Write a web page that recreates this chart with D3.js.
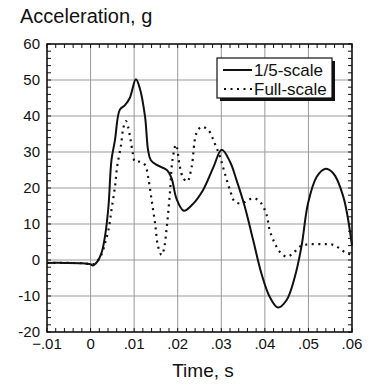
<html lang="en">
<head>
  <meta charset="utf-8"/>
  <script src="https://d3js.org/d3.v7.min.js"></script>
  <style>
  body { margin:0; background:white; }
  text { font-family: "Liberation Sans", Arial, sans-serif; fill:#111; }
  .grid line { stroke:#999; stroke-width:1px; }
  .minor line { stroke:#111; stroke-width:1px; }
  </style>
</head>
<body>
  <svg id="chart" width="369" height="388"></svg>
  <script>
    // 1/5-scale model (solid)
    const smallT = [-0.01,-0.006,-0.002,0,0.0005,0.0015,0.0025,0.0033,0.0041,0.0048,0.0056,0.0067,0.0079,0.009,0.0104,0.0113,0.0125,0.0132,0.0138,0.0152,0.0175,0.0186,0.0197,0.0214,0.0232,0.0258,0.0281,0.0301,0.032,0.0335,0.0354,0.0373,0.0392,0.0411,0.043,0.045,0.0469,0.0484,0.0499,0.0519,0.0538,0.0557,0.058,0.06];
    const smallG = [-0.8,-0.8,-0.9,-1.2,-1.5,-0.5,1.9,6.5,14.8,27.8,33.3,41.7,43,45,50.2,47.7,39.8,30.5,27.8,26.4,25,22.7,17.1,13.7,15.2,19.4,25.5,30.6,27.3,22.2,14.8,5.6,-3.7,-10.2,-13.2,-11.1,-4.6,3.7,15.7,23.1,25.3,24.1,17.6,4];
    // Full-scale (dotted)
    const fullT = [-0.01,-0.006,-0.002,0,0.001,0.0025,0.0033,0.0041,0.0048,0.0056,0.0061,0.007,0.0075,0.0081,0.0086,0.0092,0.0097,0.0102,0.0113,0.0125,0.0132,0.014,0.0148,0.0155,0.0163,0.0168,0.0175,0.0182,0.0188,0.0196,0.0205,0.0213,0.0222,0.0232,0.0243,0.0255,0.027,0.0285,0.0297,0.0308,0.032,0.0331,0.0347,0.0362,0.0377,0.0392,0.0404,0.0411,0.0423,0.0434,0.045,0.0465,0.048,0.0496,0.0519,0.0541,0.0557,0.0572,0.0587,0.06];
    const fullG = [-0.8,-0.8,-0.9,-1.1,-1,1.5,4.6,8.3,13.9,20.4,25.9,32,36.6,38.6,37,33.3,29.6,27.3,27.3,26.4,23.1,16.7,10.2,3.7,1.4,2.8,9.3,18.5,27.8,32,25.9,22.7,21.8,25.9,35.2,37,36.1,32.4,28.7,24.1,19.4,16.2,15.7,16.7,17.1,15.7,12.5,8.3,4.6,2.3,0.9,1.9,3.7,4.3,4.4,4.4,4.2,3.2,1.9,1.5];

    const xTicks = [-0.01,0,0.01,0.02,0.03,0.04,0.05,0.06];
    const yTicks = [-20,-10,0,10,20,30,40,50,60];
    const seriesNames = ["1/5-scale","Full-scale"];

    const svg = d3.select("#chart");
    const plotL = 47, plotR = 352, plotT = 44, plotB = 332;

    const x = d3.scaleLinear().domain([-0.01,0.06]).range([plotL,plotR]);
    const y = d3.scaleLinear().domain([-20,60]).range([plotB,plotT]);

    // grid
    const grid = svg.append("g").attr("class","grid");
    grid.selectAll("line.v").data(xTicks).join("line").attr("class","v")
      .attr("x1",d=>x(d)).attr("x2",d=>x(d)).attr("y1",plotT).attr("y2",plotB);
    grid.selectAll("line.h").data(yTicks).join("line").attr("class","h")
      .attr("x1",plotL).attr("x2",plotR).attr("y1",d=>y(d)).attr("y2",d=>y(d));

    // minor ticks, inward on all sides
    const minor = svg.append("g").attr("class","minor");
    const xMinor = d3.range(0,36).map(i => -0.01 + i*0.002);
    const yMinor = d3.range(0,41).map(i => -20 + i*2);
    minor.selectAll("line.bt").data(xMinor).join("line").attr("class","bt")
      .attr("x1",d=>x(d)).attr("x2",d=>x(d)).attr("y1",plotB).attr("y2",plotB-4);
    minor.selectAll("line.tt").data(xMinor).join("line").attr("class","tt")
      .attr("x1",d=>x(d)).attr("x2",d=>x(d)).attr("y1",plotT).attr("y2",plotT+4);
    minor.selectAll("line.lt").data(yMinor).join("line").attr("class","lt")
      .attr("x1",plotL).attr("x2",plotL+4).attr("y1",d=>y(d)).attr("y2",d=>y(d));
    minor.selectAll("line.rt").data(yMinor).join("line").attr("class","rt")
      .attr("x1",plotR).attr("x2",plotR-4).attr("y1",d=>y(d)).attr("y2",d=>y(d));

    // curves
    const line = d3.line().x(d=>x(d[0])).y(d=>y(d[1])).curve(d3.curveCatmullRom.alpha(0.5));
    svg.append("path").datum(d3.zip(fullT, fullG))
      .attr("d", line).attr("fill","none").attr("stroke","#111")
      .attr("stroke-width",2.2).attr("stroke-dasharray","2,4.5");
    svg.append("path").datum(d3.zip(smallT, smallG))
      .attr("d", line).attr("fill","none").attr("stroke","#111").attr("stroke-width",2);

    // frame
    svg.append("rect").attr("x",plotL).attr("y",plotT).attr("width",plotR-plotL).attr("height",plotB-plotT)
      .attr("fill","none").attr("stroke","#111").attr("stroke-width",1.5);

    // tick labels
    const fmt = d => d === 0 ? "0" : d3.format(".2f")(d).replace("0.", ".");
    svg.selectAll("text.xl").data(xTicks).join("text").attr("class","xl")
      .attr("x",d=>x(d)).attr("y",349).attr("text-anchor","middle")
      .attr("font-size","15px").text(fmt);
    svg.selectAll("text.yl").data(yTicks).join("text").attr("class","yl")
      .attr("x",40).attr("y",d=>y(d)+4.5).attr("text-anchor","end")
      .attr("font-size","15px").text(d=>d);

    // axis titles
    svg.append("text").attr("x",20).attr("y",23).attr("font-size","20px").text("Acceleration, g");
    svg.append("text").attr("x",203).attr("y",377).attr("text-anchor","middle").attr("font-size","19px").text("Time, s");

    // legend
    const lg = svg.append("g");
    lg.append("rect").attr("x",220).attr("y",61).attr("width",115).attr("height",40).attr("fill","#111");
    lg.append("rect").attr("x",217).attr("y",58).attr("width",115).attr("height",40)
      .attr("fill","white").attr("stroke","#111").attr("stroke-width",1.2);
    lg.append("line").attr("x1",223).attr("x2",252).attr("y1",70).attr("y2",70)
      .attr("stroke","#111").attr("stroke-width",2);
    lg.append("line").attr("x1",224).attr("x2",252).attr("y1",89).attr("y2",89)
      .attr("stroke","#111").attr("stroke-width",2.2).attr("stroke-dasharray","2,4.5");
    lg.append("text").attr("x",254).attr("y",76).attr("font-size","17px").text(seriesNames[0]);
    lg.append("text").attr("x",254).attr("y",95).attr("font-size","17px").text(seriesNames[1]);
  </script>
</body>
</html>
